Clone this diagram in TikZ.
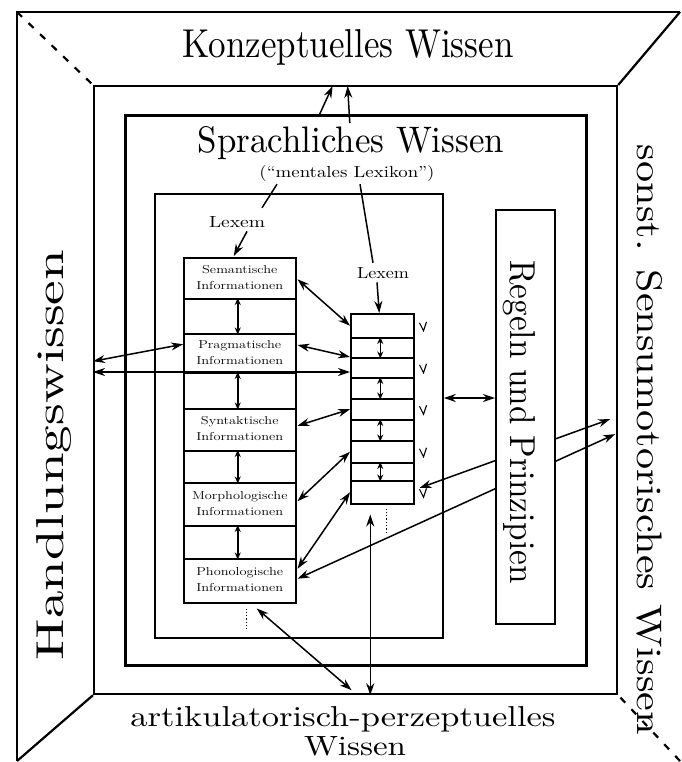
\documentclass[tikz,border=0pt]{standalone}
\usetikzlibrary{arrows.meta,calc}
\newcommand\celltext[2]{\scalebox{1.25}[1]{\fontsize{11.5}{16}\selectfont\begin{tabular}{@{}c@{}}#1\\#2\end{tabular}}}
\begin{document}
\begin{tikzpicture}[x=1pt,y=-1pt,
  frame/.style={draw,line width=2.2pt,inner sep=0pt,anchor=north west},
  cellL/.style={draw,line width=1.5pt,inner sep=0pt,anchor=north west,minimum width=112pt,fill=white},
  cellR/.style={draw,line width=1.5pt,inner sep=0pt,anchor=north west,minimum width=63pt,fill=white},
  dbl/.style={arrows={Stealth[length=12pt,width=8pt]-Stealth[length=12pt,width=8pt]},line width=1.5pt},
  sgl/.style={arrows={-Stealth[length=12pt,width=8pt]},line width=1.5pt},
  dsmall/.style={arrows={Stealth[length=7pt,width=6pt]-Stealth[length=7pt,width=6pt]},line width=1.5pt},
  plain/.style={line width=1.5pt},
  outer/.style={line width=2.2pt},
  lbl/.style={inner sep=2pt}
]
\useasboundingbox (0,0) rectangle (681,762);
\fill[white] (0,0) rectangle (681,762);

% outer corners
\coordinate (otl) at (17,12);
\coordinate (otr) at (680,12);
\coordinate (obl) at (17,761);
\coordinate (obr) at (680,761);
\draw[outer] (otr) -- (otl) -- (obl);

% frames
\node[frame,minimum width=523pt,minimum height=608pt] (rect2) at (93,85) {};
\node[frame,line width=2.6pt,minimum width=461pt,minimum height=550pt] (rect3) at (124,114) {};
\node[frame,line width=1.8pt,minimum width=288pt,minimum height=444pt] (lex) at (154,193) {};

% diagonals
\draw[outer,dash pattern=on 7pt off 9pt] (otl) -- (rect2.north west);
\draw[outer] (otr) -- (rect2.north east);
\draw[outer] (obl) -- (rect2.south west);
\draw[outer,dash pattern=on 7pt off 9pt] (obr) -- (rect2.south east);

% big labels
\node[lbl,anchor=base] (konz) at (348,58) {\resizebox{331pt}{28pt}{Konzeptuelles Wissen}};
\node[lbl,anchor=base] (spr) at (351,153) {\resizebox{306pt}{26pt}{Sprachliches Wissen}};
\node[lbl] (ml) at (347,174) {\resizebox{175pt}{12pt}{(``mentales Lexikon'')}};
\node[lbl,anchor=base] (art) at (343,726) {\resizebox{425pt}{20pt}{artikulatorisch-perzeptuelles}};
\node[lbl,anchor=base] (wis) at (355,755) {\resizebox{102pt}{19pt}{Wissen}};
\node[lbl,anchor=base,rotate=90] (hand) at (63,455) {\resizebox{410pt}{27pt}{Handlungswissen}};
\node[lbl,anchor=base,rotate=-90] (senso) at (637,440) {\resizebox{590pt}{25pt}{sonst. Sensumotorisches Wissen}};

% left column
\node[cellL,minimum height=41pt] (sem) at (183,257) {\celltext{Semantische}{Informationen}};
\node[cellL,minimum height=35pt] (c1) at (183,298) {};
\node[cellL,minimum height=39pt] (prag) at (183,333) {\celltext{Pragmatische}{Informationen}};
\node[cellL,minimum height=36pt] (c2) at (183,372) {};
\node[cellL,minimum height=42pt] (syn) at (183,408) {\celltext{Syntaktische}{Informationen}};
\node[cellL,minimum height=32pt] (c3) at (183,450) {};
\node[cellL,minimum height=43pt] (morph) at (183,482) {\celltext{Morphologische}{Informationen}};
\node[cellL,minimum height=33pt] (c4) at (183,525) {};
\node[cellL,minimum height=44pt] (phon) at (183,558) {\celltext{Phonologische}{Informationen}};

% right column
\node[cellR,minimum height=24pt] (r1) at (350,313) {};
\node[cellR,minimum height=20pt] (rc1) at (350,337) {};
\node[cellR,minimum height=20pt] (r2) at (350,357) {};
\node[cellR,minimum height=21pt] (rc2) at (350,377) {};
\node[cellR,minimum height=21pt] (r3) at (350,398) {};
\node[cellR,minimum height=21pt] (rc3) at (350,419) {};
\node[cellR,minimum height=22pt] (r4) at (350,440) {};
\node[cellR,minimum height=18pt] (rc4) at (350,462) {};
\node[cellR,minimum height=23pt] (r5) at (350,480) {};

% Lexem labels
\node[lbl,anchor=base] (lexL) at (237,227) {\resizebox{56pt}{11pt}{Lexem}};
\node[lbl,anchor=base] (lexR) at (383,278) {\resizebox{52pt}{11pt}{Lexem}};

% top arrows to Konzeptuelles Wissen
\draw[sgl] ($(rect3.north)+(-37,2)$) -- ($(rect2.north)+(-23,1)$);
\draw[sgl] ($(rect3.north)+(-6,9)$) -- ($(rect2.north)+(-8,1)$);

% mentales Lexikon -> Lexem
\draw[plain] ($(ml.south)+(-70,0)$) -- ($(lexL.north)+(25,-6)$);
\draw[sgl] ($(lexL.south)+(10,2)$) -- ($(sem.north)+(-6,-1)$);
\draw[plain] ($(ml.south)+(13,0)$) -- ($(lexR.north)+(-10,-2)$);
\draw[sgl] ($(lexR.south)+(-6,2)$) -- ($(r1.north)+(-3,0)$);

% arrows inside connector cells
\foreach \c in {c1,c2,c3,c4} \draw[dsmall] ($(\c.north)+(-2,0)$) -- ($(\c.south)+(-2,0)$);
\foreach \c in {rc1,rc2,rc3,rc4} \draw[dsmall] ($(\c.north)+(-2,0)$) -- ($(\c.south)+(-2,0)$);

% ticks right of the Lexem column
\foreach \r in {r1,r2,r3,r4,r5} \draw[line width=1.1pt] ($(\r.east)+(5,-3)$) -- ++(4,8) -- ++(3,-9);

% links between the columns
\draw[dbl] ($(sem.east)+(1,1)$) -- (r1.west);
\draw[dbl] ($(prag.north east)+(1,12)$) -- (r2.north west);
\draw[dbl] (rect2.west |- c2.north) -- (r2.west |- c2.north);
\draw[dbl] ($(rect2.west |- prag.center)+(0,8)$) -- ($(prag.west)+(0,-9)$);
\draw[dbl] ($(syn.east)+(1,-4)$) -- (r3.west);
\draw[dbl] ($(morph.east)+(1,-3)$) -- (r4.west);
\draw[dbl] (r5.west) -- ($(phon.east)+(1,-12)$);

% long links to Sensumotorisches Wissen
\draw[dbl] ($(phon.east)+(1,-2)$) -- ($(rect2.east)+(-3,44)$);
\draw[dbl] ($(r5.north east)+(5,8)$) -- ($(rect2.east)+(-8,29)$);

% Regeln und Prinzipien
\node[frame,line width=1.8pt,fill=white,minimum width=59pt,minimum height=414pt] (regeln) at (495,209) {};
\node[lbl,anchor=base,rotate=-90] (regtext) at (510,422) {\resizebox{323pt}{25pt}{Regeln und Prinzipien}};
\draw[dbl] (lex.east |- r3.north) -- (regeln.west |- r3.north);

% links to artikulatorisch-perzeptuelles Wissen
\coordinate (vtop) at ($(r5.south)+(-12,10)$);
\draw[dbl] (vtop) -- (vtop |- rect2.south);
\draw[dbl] ($(phon.south)+(17,5)$) -- ($(rect2.south)+(-4,-5)$);
\draw[dotted,line width=1.3pt] ($(phon.south)+(7,5)$) -- ++(0,20);
\draw[dotted,line width=1.3pt] ($(r5.south)+(4,4)$) -- ++(0,24);
\end{tikzpicture}
\end{document}
